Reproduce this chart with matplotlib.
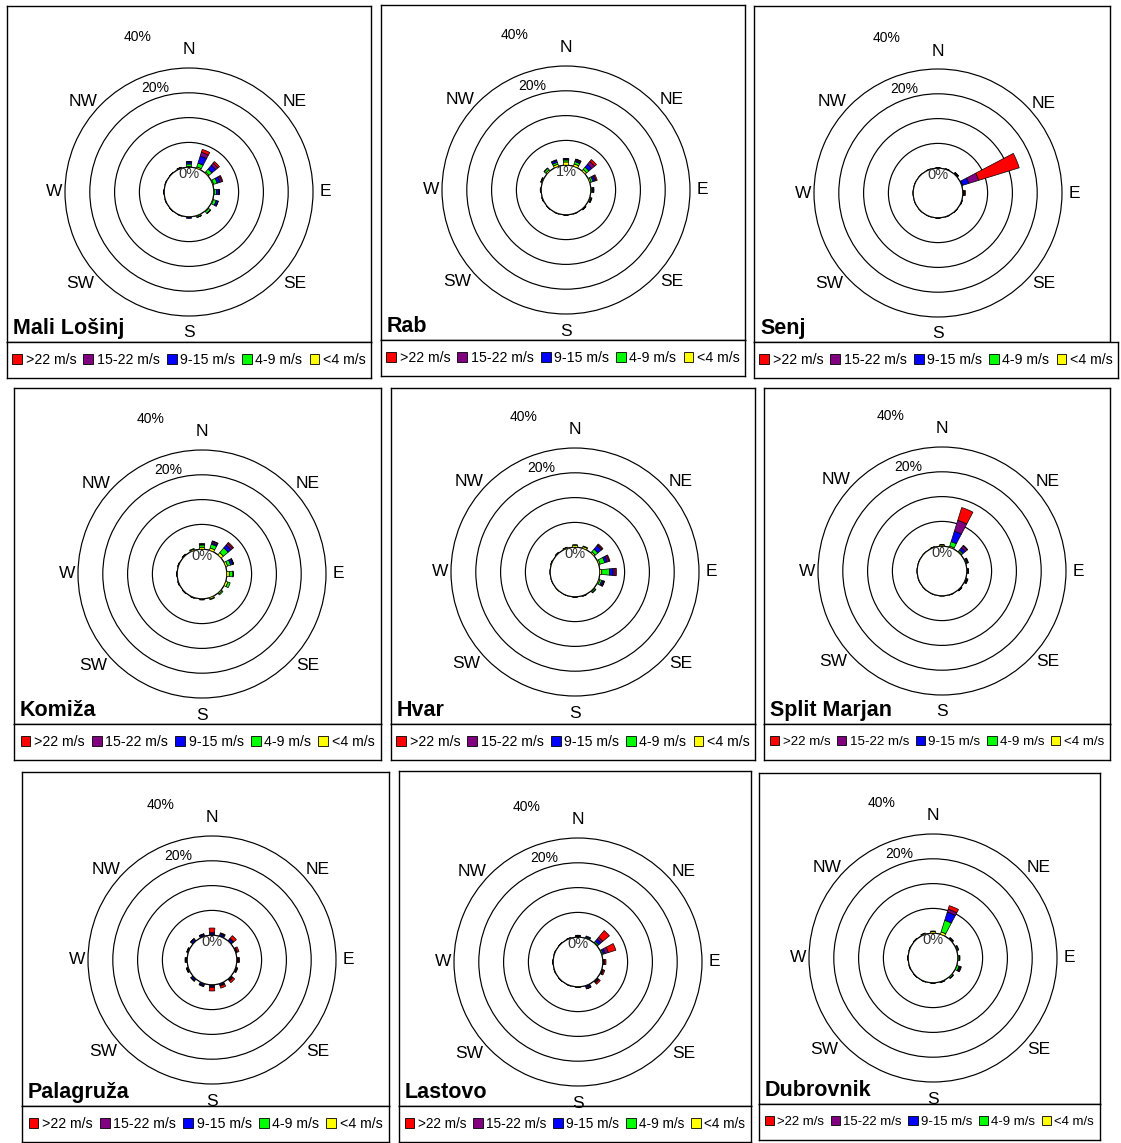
import matplotlib.pyplot as plt
import numpy as np
from matplotlib.patches import Patch

plt.rcParams['font.family'] = ['Liberation Sans', 'DejaVu Sans']

W, H = 1121, 1143

directions = ['N', 'NNE', 'NE', 'ENE', 'E', 'ESE', 'SE', 'SSE',
              'S', 'SSW', 'SW', 'WSW', 'W', 'WNW', 'NW', 'NNW']
speed_labels = ['>22 m/s', '15-22 m/s', '9-15 m/s', '4-9 m/s', '<4 m/s']
speed_colors = ['#ff0000', '#800080', '#0000ff', '#00ff00', '#ffff00']
ring_values = [0, 10, 20, 30, 40]
stations = ['Mali Lošinj', 'Rab', 'Senj', 'Komiža', 'Hvar', 'Split Marjan',
            'Palagruža', 'Lastovo', 'Dubrovnik']
hole_labels = ['0%', '1%', '0%', '0%', '0%', '0%', '0%', '0%', '0%']

# frequency (%) per direction, rows from inner to outer: <4, 4-9, 9-15, 15-22, >22 m/s
mali_losinj = [
    [0.3, 0.6, 0.5, 0.4, 0.3, 0.3, 0.3, 0.2, 0.1, 0.1, 0.1, 0.1, 0.1, 0.1, 0.1, 0.2],
    [1.0, 1.6, 1.5, 1.5, 0.8, 1.2, 0.9, 0.5, 0.2, 0.1, 0.1, 0.1, 0.1, 0.1, 0.1, 0.2],
    [0.8, 3.0, 2.0, 1.2, 1.0, 0.8, 0.2, 0.1, 0.4, 0.0, 0.0, 0.0, 0.0, 0.0, 0.0, 0.1],
    [0.2, 1.6, 1.2, 0.8, 0.2, 0.1, 0.0, 0.0, 0.0, 0.0, 0.0, 0.0, 0.0, 0.0, 0.0, 0.0],
    [0.0, 1.2, 0.8, 0.4, 0.0, 0.0, 0.0, 0.0, 0.0, 0.0, 0.0, 0.0, 0.0, 0.0, 0.0, 0.0],
]
rab = [
    [1.3, 1.0, 0.8, 0.6, 0.3, 0.2, 0.2, 0.1, 0.1, 0.1, 0.1, 0.2, 0.2, 0.3, 0.6, 0.9],
    [0.8, 1.0, 1.2, 0.8, 0.4, 0.4, 0.2, 0.1, 0.1, 0.1, 0.1, 0.1, 0.2, 0.3, 0.8, 0.8],
    [0.4, 0.5, 1.5, 0.8, 0.3, 0.2, 0.1, 0.0, 0.0, 0.0, 0.0, 0.0, 0.0, 0.1, 0.2, 0.8],
    [0.2, 0.5, 1.5, 0.5, 0.3, 0.2, 0.0, 0.0, 0.0, 0.0, 0.0, 0.0, 0.0, 0.0, 0.0, 0.3],
    [0.0, 0.1, 1.0, 0.5, 0.0, 0.0, 0.0, 0.0, 0.0, 0.0, 0.0, 0.0, 0.0, 0.0, 0.0, 0.0],
]
senj = [
    [0.1, 0.1, 0.1, 0.1, 0.1, 0.1, 0.1, 0.1, 0.1, 0.1, 0.1, 0.1, 0.1, 0.1, 0.1, 0.1],
    [0.1, 0.1, 0.2, 0.3, 0.2, 0.1, 0.1, 0.1, 0.1, 0.0, 0.0, 0.0, 0.0, 0.0, 0.0, 0.1],
    [0.0, 0.1, 0.3, 2.6, 0.2, 0.1, 0.0, 0.0, 0.0, 0.0, 0.0, 0.0, 0.0, 0.0, 0.0, 0.0],
    [0.0, 0.0, 0.1, 4.2, 0.2, 0.0, 0.0, 0.0, 0.0, 0.0, 0.0, 0.0, 0.0, 0.0, 0.0, 0.0],
    [0.0, 0.0, 0.1, 17.1, 0.4, 0.0, 0.0, 0.0, 0.0, 0.0, 0.0, 0.0, 0.0, 0.0, 0.0, 0.0],
]
komiza = [
    [0.8, 1.0, 1.2, 0.8, 1.0, 0.9, 0.5, 0.6, 0.3, 0.2, 0.2, 0.2, 0.2, 0.2, 0.3, 0.5],
    [0.9, 1.6, 2.5, 1.3, 1.5, 1.0, 0.5, 0.3, 0.2, 0.1, 0.1, 0.1, 0.1, 0.1, 0.2, 0.3],
    [0.3, 0.6, 1.5, 0.9, 0.1, 0.0, 0.0, 0.0, 0.0, 0.0, 0.0, 0.0, 0.0, 0.0, 0.0, 0.0],
    [0.3, 0.6, 0.9, 0.3, 0.0, 0.0, 0.0, 0.0, 0.0, 0.0, 0.0, 0.0, 0.0, 0.0, 0.0, 0.0],
    [0.0, 0.2, 0.5, 0.1, 0.0, 0.0, 0.0, 0.0, 0.0, 0.0, 0.0, 0.0, 0.0, 0.0, 0.0, 0.0],
]
hvar = [
    [0.8, 0.7, 0.6, 0.6, 0.8, 0.5, 0.3, 0.2, 0.1, 0.1, 0.1, 0.1, 0.1, 0.2, 0.3, 0.4],
    [0.2, 0.3, 1.4, 2.0, 3.2, 0.8, 0.5, 0.1, 0.1, 0.0, 0.0, 0.0, 0.0, 0.1, 0.1, 0.1],
    [0.0, 0.0, 1.8, 1.0, 1.4, 0.6, 0.2, 0.0, 0.0, 0.0, 0.0, 0.0, 0.0, 0.0, 0.0, 0.0],
    [0.0, 0.0, 0.5, 0.8, 0.8, 0.4, 0.0, 0.0, 0.0, 0.0, 0.0, 0.0, 0.0, 0.0, 0.0, 0.0],
    [0.0, 0.0, 0.4, 0.4, 0.5, 0.2, 0.0, 0.0, 0.0, 0.0, 0.0, 0.0, 0.0, 0.0, 0.0, 0.0],
]
split_marjan = [
    [0.5, 0.5, 0.4, 0.1, 0.1, 0.1, 0.1, 0.1, 0.1, 0.1, 0.1, 0.1, 0.1, 0.1, 0.1, 0.2],
    [0.1, 1.9, 0.6, 0.4, 0.3, 0.3, 0.1, 0.1, 0.0, 0.0, 0.0, 0.0, 0.0, 0.0, 0.0, 0.1],
    [0.0, 4.4, 1.2, 0.4, 0.2, 0.2, 0.1, 0.0, 0.0, 0.0, 0.0, 0.0, 0.0, 0.0, 0.0, 0.0],
    [0.0, 4.6, 1.0, 0.3, 0.1, 0.2, 0.1, 0.0, 0.0, 0.0, 0.0, 0.0, 0.0, 0.0, 0.0, 0.0],
    [0.0, 5.4, 0.3, 0.0, 0.0, 0.2, 0.1, 0.0, 0.0, 0.0, 0.0, 0.0, 0.0, 0.0, 0.0, 0.0],
]
palagruza = [
    [0.1, 0.1, 0.1, 0.1, 0.1, 0.1, 0.1, 0.1, 0.1, 0.1, 0.1, 0.1, 0.1, 0.1, 0.1, 0.1],
    [0.3, 0.2, 0.2, 0.1, 0.2, 0.2, 0.2, 0.2, 0.2, 0.2, 0.2, 0.3, 0.3, 0.2, 0.2, 0.2],
    [0.5, 0.6, 0.8, 0.3, 0.3, 0.2, 0.4, 0.4, 0.5, 0.5, 0.6, 0.3, 0.3, 0.3, 0.7, 0.5],
    [0.2, 0.3, 0.3, 0.2, 0.2, 0.1, 0.3, 0.3, 0.3, 0.2, 0.2, 0.2, 0.2, 0.1, 0.2, 0.2],
    [1.8, 0.3, 1.4, 0.7, 0.3, 0.3, 0.9, 0.9, 1.4, 0.3, 0.1, 0.0, 0.0, 0.0, 0.1, 0.1],
]
lastovo = [
    [0.1, 0.2, 0.2, 0.2, 0.1, 0.1, 0.1, 0.1, 0.1, 0.1, 0.1, 0.1, 0.1, 0.1, 0.1, 0.1],
    [0.2, 0.4, 0.6, 0.5, 0.2, 0.2, 0.2, 0.2, 0.1, 0.1, 0.1, 0.1, 0.1, 0.1, 0.1, 0.1],
    [0.2, 0.4, 1.2, 0.8, 0.3, 0.3, 0.4, 0.5, 0.1, 0.0, 0.0, 0.0, 0.0, 0.0, 0.0, 0.1],
    [0.2, 0.0, 1.0, 1.3, 0.2, 0.2, 0.3, 0.5, 0.0, 0.0, 0.0, 0.0, 0.0, 0.0, 0.0, 0.0],
    [0.1, 0.0, 3.5, 3.2, 0.5, 0.5, 0.7, 0.1, 0.0, 0.0, 0.0, 0.0, 0.0, 0.0, 0.0, 0.0],
]
dubrovnik = [
    [0.6, 1.0, 0.2, 0.2, 0.2, 0.1, 0.1, 0.1, 0.1, 0.1, 0.1, 0.1, 0.1, 0.1, 0.2, 0.4],
    [0.3, 4.9, 0.3, 0.4, 0.5, 0.9, 0.5, 0.2, 0.1, 0.1, 0.1, 0.1, 0.1, 0.1, 0.1, 0.2],
    [0.0, 3.5, 0.3, 0.3, 0.2, 0.4, 0.2, 0.1, 0.0, 0.0, 0.0, 0.0, 0.0, 0.0, 0.0, 0.0],
    [0.0, 1.2, 0.0, 0.0, 0.0, 0.3, 0.0, 0.0, 0.0, 0.0, 0.0, 0.0, 0.0, 0.0, 0.0, 0.0],
    [0.0, 1.5, 0.0, 0.0, 0.0, 0.3, 0.0, 0.0, 0.0, 0.0, 0.0, 0.0, 0.0, 0.0, 0.0, 0.0],
]
station_data = [mali_losinj, rab, senj, komiza, hvar, split_marjan,
                palagruza, lastovo, dubrovnik]

# layout in pixels: chart box (x0, y0, x1, y1), legend right edge, rose centre
boxes = [(7, 6, 371, 342), (381, 5, 745, 340), (754, 6, 1110, 342),
         (14, 388, 381, 724), (391, 388, 755, 724), (764, 388, 1110, 724),
         (22, 772, 389, 1106), (399, 771, 751, 1106), (759, 773, 1100, 1104)]
legend_right = [371, 745, 1118, 381, 755, 1110, 389, 751, 1100]
centers = [(189, 192), (566, 190), (938, 193),
           (202, 574), (575, 572), (942, 571),
           (212, 960), (578, 962), (933, 958)]
R = 124  # radius of the 40% ring in px
R_MAX = 41.0  # a little headroom so the 40% ring is not clipped
R_AX = R * (R_MAX + 10) / 50
LEG_H = 36

# label offsets from centre (px)
compass_pos = {'N': (0, -142), 'NE': (106, -90), 'E': (136, 0), 'SE': (106, 91),
               'S': (0, 141), 'SW': (-109, 91), 'W': (-135, 0), 'NW': (-106, -91)}


def px_rect(x0, y0, x1, y1):
    return [x0 / W, 1 - y1 / H, (x1 - x0) / W, (y1 - y0) / H]


def fig_xy(x, y):
    return x / W, 1 - y / H


def bare(ax):
    ax.set_xticks([])
    ax.set_yticks([])
    for s in ax.spines.values():
        s.set_linewidth(1.0)


fig = plt.figure(figsize=(W / 100, H / 100), dpi=100)
theta = np.deg2rad(np.arange(len(directions)) * 22.5)
handles = [Patch(facecolor=c, edgecolor='black', linewidth=0.6) for c in speed_colors]

for i, name in enumerate(stations):
    data = station_data[i]
    x0, y0, x1, y1 = boxes[i]
    cx, cy = centers[i]

    frame = fig.add_axes(px_rect(x0, y0, x1, y1))
    bare(frame)
    frame.text(6 / (x1 - x0), 8 / (y1 - y0), name, transform=frame.transAxes,
               fontsize=15.5, fontweight='bold', va='baseline', ha='left')

    lw_px = legend_right[i] - x0
    leg_ax = fig.add_axes(px_rect(x0, y1, legend_right[i], y1 + LEG_H))
    bare(leg_ax)
    leg_ax.legend(handles, speed_labels, loc='center', ncol=5, frameon=False,
                  fontsize=min(10.2, 10.2 * (lw_px - 14) / 352), handlelength=0.7,
                  handleheight=0.7, handletextpad=0.25, columnspacing=0.5,
                  borderpad=0, borderaxespad=0)

    pax = fig.add_axes(px_rect(cx - R_AX, cy - R_AX, cx + R_AX, cy + R_AX),
                       projection='polar')
    pax.set_theta_zero_location('N')
    pax.set_theta_direction(-1)
    pax.patch.set_alpha(0)
    bottom = np.zeros(len(directions))
    for vals, col in zip(data, speed_colors[::-1]):
        vals = np.array(vals)
        m = vals > 0
        pax.bar(theta[m], vals[m], width=np.deg2rad(10.5), bottom=bottom[m],
                color=col, edgecolor='black', linewidth=0.5, zorder=3)
        bottom += vals
    pax.set_ylim(0, R_MAX)
    pax.set_rorigin(-10)
    pax.set_xticks([])
    pax.xaxis.set_visible(False)
    pax.set_yticks(ring_values)
    pax.set_yticklabels([])
    for t in pax.yaxis.get_major_ticks():
        t.tick1line.set_visible(False)
        t.tick2line.set_visible(False)
    pax.yaxis.grid(True, color='black', linewidth=0.85, linestyle='-',
                   solid_capstyle='butt')
    for s in pax.spines.values():
        s.set_visible(False)

    for lab, (dx, dy) in compass_pos.items():
        fig.text(*fig_xy(cx + dx, cy + dy), lab, fontsize=12.5, ha='center', va='center')
    fig.text(*fig_xy(cx - 51, cy - 155), '40%', fontsize=10, ha='center', va='center')
    fig.text(*fig_xy(cx - 34, cy - 104), '20%', fontsize=10, ha='center', va='center')
    fig.text(*fig_xy(cx, cy - 18), hole_labels[i], fontsize=10.5, ha='center', va='center',
             color='#333333', zorder=10)

fig.savefig('out.png', dpi=100)
